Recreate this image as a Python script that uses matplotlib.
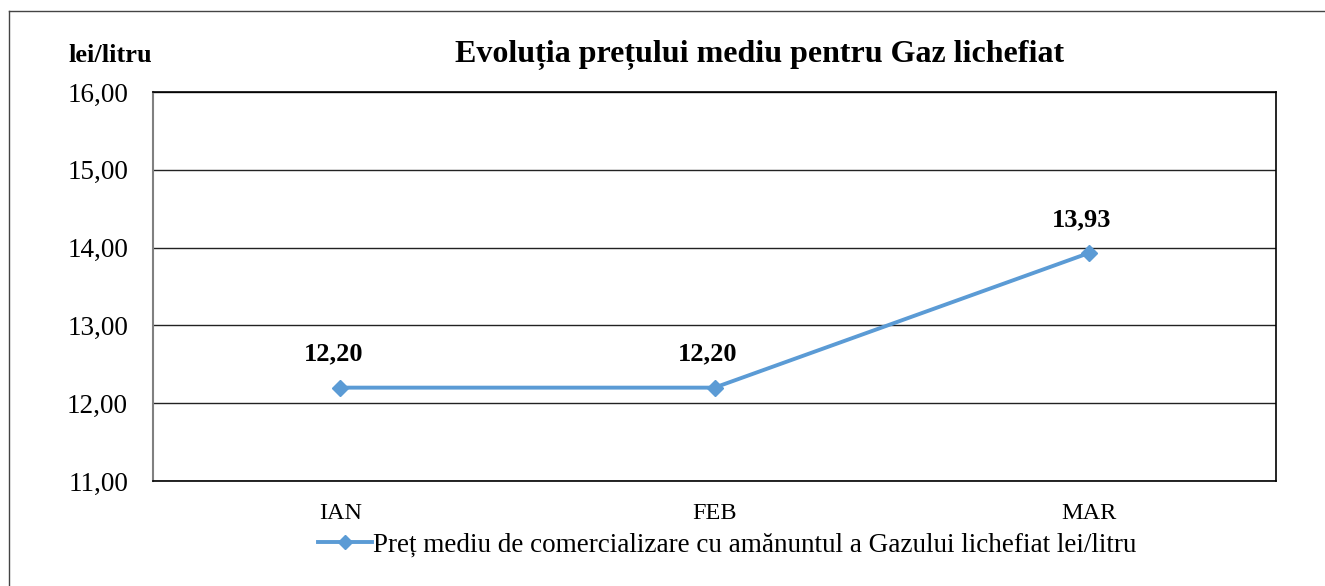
import matplotlib.pyplot as plt
from matplotlib.lines import Line2D

months = ['IAN', 'FEB', 'MAR']
prices = [12.20, 12.20, 13.93]
yticks = [11, 12, 13, 14, 15, 16]
series_name = 'Preț mediu de comercializare cu amănuntul a Gazului lichefiat lei/litru'

plt.rcParams['font.family'] = ['Liberation Serif', 'DejaVu Serif']

fig = plt.figure(figsize=(13.25, 5.86), dpi=100)
ax = fig.add_axes([153/1325, 1 - 481/586, (1276-153)/1325, (481-92)/586])

x = list(range(len(months)))
ax.plot(x, prices, color='#5B9BD5', linewidth=2.8, marker='D', markersize=8.5,
        label=series_name, zorder=3)
for xi, v in zip(x, prices):
    ax.annotate(f'{v:.2f}'.replace('.', ','), (xi, v), xytext=(-5, 16),
                textcoords='offset points', ha='center', va='bottom',
                fontsize=19, fontweight='bold')

ax.set_xlim(-0.5, 2.5)
ax.set_ylim(11, 16)
ax.set_yticks(yticks)
ax.set_yticklabels([f'{t:.2f}'.replace('.', ',') for t in yticks], fontsize=19.5)
ax.set_xticks(x)
ax.set_xticklabels(months, fontsize=17.5)
ax.tick_params(length=0)
ax.tick_params(axis='y', pad=18)
ax.tick_params(axis='x', pad=16)
ax.grid(axis='y', color='#222222', linewidth=1)
ax.set_axisbelow(True)
for s in ['top', 'right', 'bottom']:
    ax.spines[s].set_color('black')
    ax.spines[s].set_linewidth(1.2)
ax.spines['left'].set_color('#808080')
ax.spines['left'].set_linewidth(1.5)

fig.text(110/1325, 1 - 55/586, 'lei/litru', fontsize=19, fontweight='bold',
         ha='center', va='center')
fig.text(760/1325, 1 - 55/586, 'Evoluția prețului mediu pentru Gaz lichefiat',
         fontsize=23, fontweight='bold', ha='center', va='center')

handle = Line2D([], [], color='#5B9BD5', linewidth=2.8, marker='D', markersize=7)
fig.legend([handle], [series_name], loc='center', bbox_to_anchor=(727/1325, 1 - 545/586),
           frameon=False, fontsize=19.5, handlelength=2.0, handletextpad=0.05)

# outer frame (left and top edges visible)
fig.add_artist(Line2D([9/1325, 9/1325], [0, 1 - 11/586], color='#444444', linewidth=1))
fig.add_artist(Line2D([9/1325, 1], [1 - 11/586, 1 - 11/586], color='#444444', linewidth=1))

fig.savefig('out.png', dpi=100)
